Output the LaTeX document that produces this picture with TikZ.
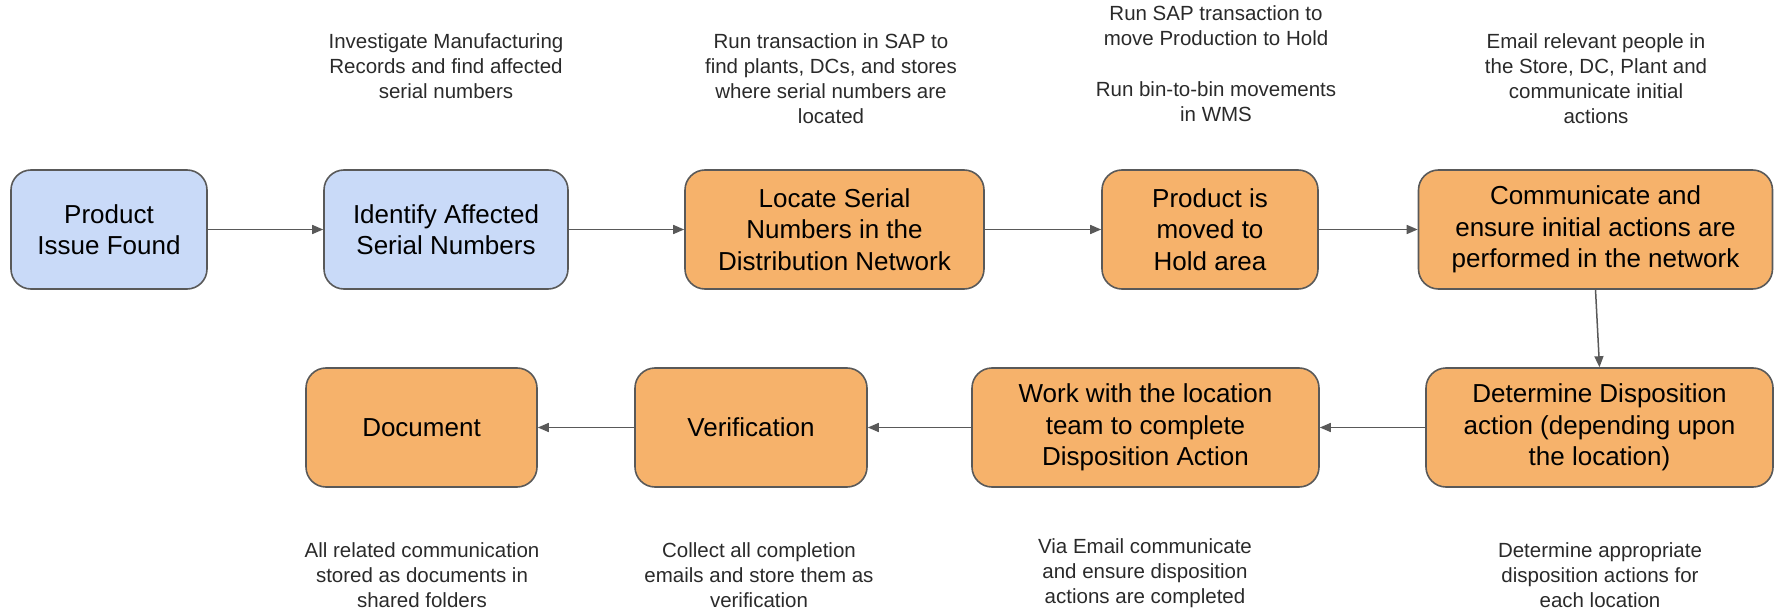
\documentclass[tikz,border=0pt]{standalone}
\usepackage{fontspec}
\setmainfont{Liberation Sans}
\usetikzlibrary{arrows.meta}
\definecolor{bluefill}{HTML}{C9DAF8}
\definecolor{orangefill}{HTML}{F6B26B}
\definecolor{edgegray}{HTML}{595959}
\definecolor{notegray}{HTML}{2A2A2A}
\tikzset{
  box/.style={draw=edgegray, line width=1.6pt, rounded corners=20pt, align=center,
    inner sep=0pt, font=\fontsize{26}{31.5}\selectfont, text=black},
  bluebox/.style={box, fill=bluefill},
  orangebox/.style={box, fill=orangefill},
  note/.style={align=center, inner sep=0pt, text=notegray, font=\fontsize{20.5}{25}\selectfont},
  flow/.style={draw=edgegray, line width=1.5pt, -{Triangle[length=11pt,width=9pt]}}
}
\begin{document}
\begin{tikzpicture}[x=1pt,y=-1pt]
\useasboundingbox (0,0) rectangle (1777,612);
% row 1 (y 170-289)
\node[bluebox, minimum width=196pt, minimum height=119pt] (b1) at (109,229.5) {Product\\Issue Found};
\node[bluebox, minimum width=244pt, minimum height=119pt] (b2) at (446,229.5) {Identify Affected\\Serial Numbers};
\node[orangebox, minimum width=299pt, minimum height=119pt] (b3) at (834.5,229.5) {Locate Serial\\Numbers in the\\Distribution Network};
\node[orangebox, minimum width=216pt, minimum height=119pt] (b4) at (1210,229.5) {Product is\\moved to\\Hold area};
\node[orangebox, minimum width=354pt, minimum height=119pt] (b5) at (1595.5,229.5) {Communicate and\\ensure initial actions are\\performed in the network};
% row 2 (y 368-487)
\node[orangebox, minimum width=347pt, minimum height=119pt] (b6) at (1599.5,427.5) {Determine Disposition\\action (depending upon\\the location)};
\node[orangebox, minimum width=347pt, minimum height=119pt] (b7) at (1145.5,427.5) {Work with the location\\team to complete\\Disposition Action};
\node[orangebox, minimum width=232pt, minimum height=119pt] (b8) at (751,427.5) {Verification};
\node[orangebox, minimum width=231pt, minimum height=119pt] (b9) at (421.5,427.5) {Document};
% connectors
\draw[flow] (b1) -- (b2);
\draw[flow] (b2) -- (b3);
\draw[flow] (b3) -- (b4);
\draw[flow] (b4) -- (b5);
\draw[flow] (b5.south) -- (b6.north);
\draw[flow] (b6) -- (b7);
\draw[flow] (b7) -- (b8);
\draw[flow] (b8) -- (b9);
% notes above
\node[note, anchor=south] (n2) at (446,99) {Investigate Manufacturing\\Records and find affected\\serial numbers};
\node[note, anchor=south] (n3) at (831,124) {Run transaction in SAP to\\find plants, DCs, and stores\\where serial numbers are\\located};
\node[note, anchor=south] (n4) at (1216,122) {Run SAP transaction to\\move Production to Hold\\[26pt]Run bin-to-bin movements\\in WMS};
\node[note, anchor=south] (n5) at (1596,124) {Email relevant people in\\the Store, DC, Plant and\\communicate initial\\actions};
% notes below
\node[note, anchor=south] (n9) at (422,608) {All related communication\\stored as documents in\\shared folders};
\node[note, anchor=south] (n8) at (759,608) {Collect all completion\\emails and store them as\\verification};
\node[note, anchor=south] (n7) at (1145,608) {Via Email communicate\\and ensure disposition\\actions are completed};
\node[note, anchor=south] (n6) at (1600,608) {Determine appropriate\\disposition actions for\\each location};
\end{tikzpicture}
\end{document}
